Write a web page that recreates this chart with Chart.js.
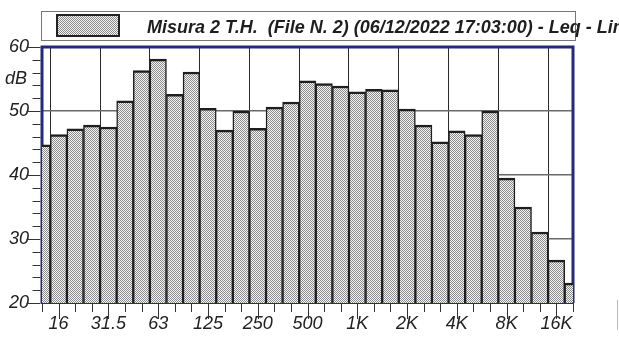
<!DOCTYPE html>
<html>
<head>
<meta charset="utf-8">
<script src="https://cdn.jsdelivr.net/npm/chart.js@4.4.1/dist/chart.umd.min.js"></script>
<style>
  html, body { margin: 0; padding: 0; background: #ffffff; }
  #wrap { position: relative; width: 619px; height: 340px; }
</style>
</head>
<body>
<div id="wrap"><canvas id="spectrum" width="619" height="340"></canvas></div>
<script>
// Third-octave band centre frequencies
const bands = ['12.5','16','20','25','31.5','40','50','63','80','100','125','160','200','250','315','400','500','630','800','1K','1.25K','1.6K','2K','2.5K','3.15K','4K','5K','6.3K','8K','10K','12.5K','16K','20K'];
// Leq per band, dB
const leq = [44.7,46.3,47.2,47.8,47.5,51.6,56.3,58.1,52.6,56.1,50.4,47.0,50.0,47.3,50.6,51.4,54.7,54.3,53.9,53.0,53.4,53.3,50.3,47.8,45.2,46.9,46.3,50.0,39.5,35.0,31.1,26.7,23.1];
// Bands that carry a label on the frequency axis
const labelledBands = ['16','31.5','63','125','250','500','1K','2K','4K','8K','16K'];
// Level axis
const yMin = 20, yMax = 60, yMajor = 10, yMinor = 2;
const yUnit = 'dB';
const seriesName = 'Misura 2 T.H.  (File N. 2) (06/12/2022 17:03:00) - Leq - Lin';

const FONT = '"Liberation Sans", Arial, sans-serif';
const NAVY = '#27287a';

// fine checker fill used for the bars
function checker() {
  const c = document.createElement('canvas');
  c.width = 2; c.height = 2;
  const g = c.getContext('2d');
  g.fillStyle = '#f6f6f6'; g.fillRect(0, 0, 2, 2);
  g.fillStyle = '#8a8a8a'; g.fillRect(0, 0, 1, 1); g.fillRect(1, 1, 1, 1);
  return g.createPattern(c, 'repeat');
}
const ctx0 = document.getElementById('spectrum').getContext('2d');
const fill = checker();

const framePlugin = {
  id: 'frame',
  beforeDatasetsDraw(chart) {
    const { ctx, chartArea: a } = chart;
    ctx.save();
    ctx.strokeStyle = NAVY;
    ctx.lineWidth = 3;
    ctx.beginPath();
    ctx.moveTo(a.left, a.bottom);
    ctx.lineTo(a.left, a.top);
    ctx.lineTo(a.right, a.top);
    ctx.lineTo(a.right, a.bottom);
    ctx.stroke();
    ctx.restore();
  },
  afterDatasetsDraw(chart) {
    const { ctx, chartArea: a, scales: { x, y } } = chart;
    ctx.save();
    // axis base line
    ctx.strokeStyle = NAVY;
    ctx.lineWidth = 1;
    ctx.beginPath();
    ctx.moveTo(a.left - 1, a.bottom + 0.5);
    ctx.lineTo(a.right + 1, a.bottom + 0.5);
    ctx.stroke();
    // tick marks
    ctx.strokeStyle = '#333';
    ctx.lineWidth = 1;
    ctx.beginPath();
    bands.forEach((b, i) => {
      const px = Math.round(x.getPixelForValue(i)) + 0.5;
      const len = labelledBands.includes(b) ? 15 : 8;
      ctx.moveTo(px, a.bottom + 1);
      ctx.lineTo(px, a.bottom + 1 + len);
    });
    for (let v = yMin; v <= yMax; v += yMinor) {
      const py = Math.round(y.getPixelForValue(v)) + 0.5;
      const len = v % yMajor === 0 ? 14 : 8;
      ctx.moveTo(a.left - 1.5 - len, py);
      ctx.lineTo(a.left - 1.5, py);
    }
    ctx.stroke();
    // unit label
    ctx.fillStyle = '#222';
    ctx.font = 'italic 18px ' + FONT;
    ctx.textAlign = 'right';
    ctx.textBaseline = 'middle';
    ctx.fillText(yUnit, a.left - 15, y.getPixelForValue(55));
    // legend box
    const ds = chart.data.datasets[0];
    ctx.strokeStyle = '#777';
    ctx.lineWidth = 1;
    ctx.strokeRect(41.5, 11.5, 534, 29);
    ctx.fillStyle = fill;
    ctx.fillRect(57, 15, 62, 21);
    ctx.strokeStyle = '#222';
    ctx.lineWidth = 2;
    ctx.strokeRect(57, 15, 62, 21);
    ctx.fillStyle = '#1e1e1e';
    ctx.font = 'italic bold 18px ' + FONT;
    ctx.textAlign = 'left';
    ctx.textBaseline = 'alphabetic';
    ctx.fillText(ds.label, 147, 33);
    // thin rule at the far right
    ctx.strokeStyle = '#bbb';
    ctx.lineWidth = 1;
    ctx.beginPath();
    ctx.moveTo(617.5, 300);
    ctx.lineTo(617.5, 330);
    ctx.stroke();
    ctx.restore();
  }
};

new Chart(ctx0, {
  type: 'bar',
  data: {
    labels: bands,
    datasets: [{
      label: seriesName,
      data: leq,
      backgroundColor: fill,
      borderColor: '#1e1e1e',
      borderWidth: { top: 2.5, left: 1.5, right: 1.5, bottom: 0 },
      borderSkipped: 'bottom',
      barPercentage: 1,
      categoryPercentage: 1,
      clip: 0
    }]
  },
  options: {
    responsive: false,
    animation: false,
    events: [],
    layout: { padding: { top: 47, right: 46, left: 0, bottom: 0 } },
    plugins: { legend: { display: false }, tooltip: { enabled: false } },
    scales: {
      x: {
        type: 'category',
        offset: false,
        border: { display: false },
        grid: {
          drawTicks: false,
          lineWidth: 1,
          color: (c) => (c.tick && labelledBands.includes(bands[c.index]) ? '#2a2a2a' : 'rgba(0,0,0,0)')
        },
        ticks: {
          autoSkip: false,
          maxRotation: 0,
          padding: 10,
          color: '#222',
          font: { family: FONT, size: 18, style: 'italic' },
          callback: (v, i) => (labelledBands.includes(bands[i]) ? bands[i] : '')
        },
        afterFit: (s) => { s.height = 37; }
      },
      y: {
        min: yMin,
        max: yMax,
        border: { display: false },
        grid: {
          drawTicks: false,
          lineWidth: 1.5,
          color: (c) => {
            const v = c.tick ? c.tick.value : null;
            return v !== null && v % yMajor === 0 && v > yMin && v < yMax ? '#6a6a6a' : 'rgba(0,0,0,0)';
          }
        },
        ticks: {
          autoSkip: false,
          stepSize: yMinor,
          padding: 13,
          color: '#222',
          font: { family: FONT, size: 18, style: 'italic' },
          callback: (v) => (v % yMajor === 0 ? String(v) : '')
        },
        afterFit: (s) => { s.width = 42; }
      }
    }
  },
  plugins: [framePlugin]
});
</script>
</body>
</html>
